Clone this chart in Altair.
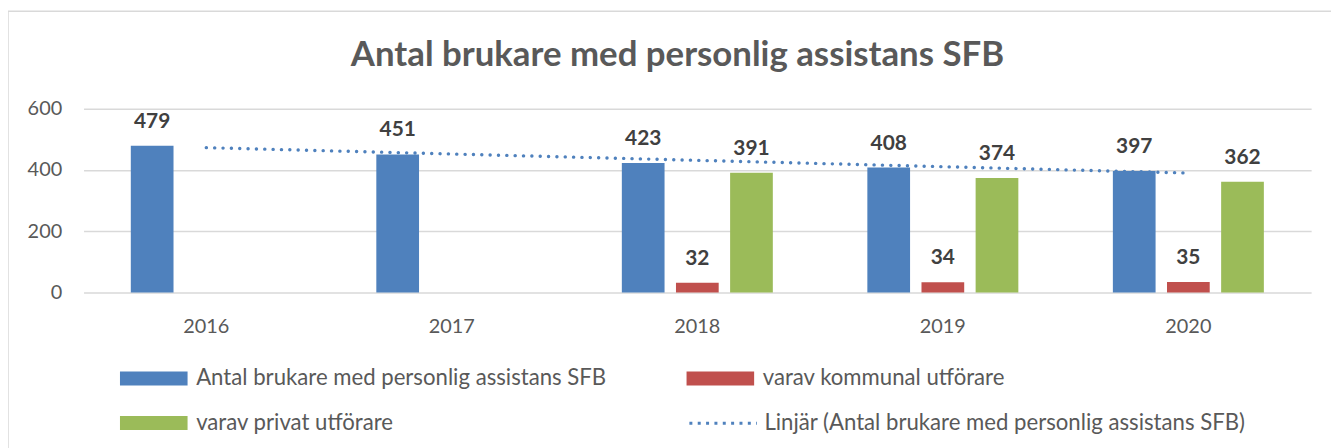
import json
import altair as alt
import pandas as pd

years = ["2016", "2017", "2018", "2019", "2020"]
year_nums = [2016, 2017, 2018, 2019, 2020]
total = [479, 451, 423, 408, 397]
kommunal = [None, None, 32, 34, 35]
privat = [None, None, 391, 374, 362]
series = ["Antal brukare med personlig assistans SFB", "varav kommunal utförare", "varav privat utförare"]
colors = ["#4F81BD", "#C0504D", "#9BBB59"]
trend_label = "Linjär (Antal brukare med personlig assistans SFB)"
title_text = "Antal brukare med personlig assistans SFB"

rows = []
for i, yr in enumerate(years):
    for s, vals in zip(series, [total, kommunal, privat]):
        if vals[i] is not None:
            rows.append({"year": yr, "series": s, "value": vals[i]})
df = pd.DataFrame(rows)
trend_df = pd.DataFrame({"yn": year_nums, "value": total})

FONT = "Lato"
W, H = 1235, 185

x_enc = alt.X(
    "year:N",
    scale=alt.Scale(domain=years, paddingInner=0.385, paddingOuter=0.1925),
    axis=alt.Axis(title=None, labelAngle=0, domain=False, ticks=False,
                  labelFontSize=20, labelColor="#595959", labelPadding=24, labelFont=FONT),
)
y_enc = alt.Y(
    "value:Q",
    scale=alt.Scale(domain=[0, 600], nice=False),
    axis=alt.Axis(values=[0, 200, 400, 600], title=None, domain=False, ticks=False,
                  gridColor="#D9D9D9", gridWidth=1.5, labelFontSize=20, labelColor="#595959",
                  labelPadding=22, labelFont=FONT),
)
xoff = alt.XOffset("series:N", scale=alt.Scale(domain=series, paddingInner=0.211, paddingOuter=0))

border = alt.Chart(pd.DataFrame({"a": [0]})).mark_rect(
    fill=None, stroke="#D9D9D9", strokeWidth=1.5
).encode(x=alt.value(-76), x2=alt.value(1400), y=alt.value(-98), y2=alt.value(600))

bars = alt.Chart(df).mark_bar().encode(
    x=x_enc,
    xOffset=xoff,
    y=y_enc,
    color=alt.Color(
        "series:N",
        scale=alt.Scale(domain=series, range=colors),
        legend=alt.Legend(
            title=None, orient="none", legendX=34, legendY=260, columns=2,
            direction="horizontal",
            columnPadding=78, rowPadding=22,
            symbolType="M-1,-0.82H7V0.82H-1Z", symbolSize=289, symbolStrokeWidth=0,
            labelFont=FONT, labelFontSize=22.3, labelColor="#595959", labelOffset=57,
            labelLimit=600,
        ),
    ),
)

labels = alt.Chart(df).mark_text(
    dy=-18, baseline="alphabetic", align="center", font=FONT, fontSize=21,
    fontWeight="bold", color="#404040"
).encode(x=alt.X("year:N"), xOffset=alt.XOffset("series:N"), y=alt.Y("value:Q"), text=alt.Text("value:Q"))

trend = alt.Chart(trend_df).transform_regression("yn", "value").transform_calculate(
    year="toString(datum.yn)", label=json.dumps(trend_label)
).mark_line(strokeDash=[0.1, 8.3], strokeCap="round", strokeWidth=3.4).encode(
    x=alt.X("year:N"),
    y=alt.Y("value:Q"),
    stroke=alt.Stroke(
        "label:N",
        scale=alt.Scale(domain=[trend_label], range=["#4F81BD"]),
        legend=alt.Legend(
            title=None, orient="none", legendX=608, legendY=281,
            symbolType="stroke", symbolSize=4624, symbolStrokeWidth=3,
            symbolDash=[3, 5.4],
            labelFont=FONT, labelFontSize=22.3, labelColor="#595959", labelOffset=6,
            labelLimit=700,
        ),
    ),
)

chart = alt.layer(border, bars, labels, trend).properties(
    width=W, height=H,
    autosize=alt.AutoSizeParams(type="none"),
    padding={"left": 76, "top": 100, "right": 20, "bottom": 155},
    title=alt.TitleParams(
        title_text, font=FONT, fontSize=35, fontWeight="bold", color="#595959",
        anchor="middle", frame="group", baseline="alphabetic", offset=0, dy=91, dx=-20,
    ),
).configure_view(stroke=None)

chart.save("out.html", embed_options={"renderer": "svg", "actions": False})
